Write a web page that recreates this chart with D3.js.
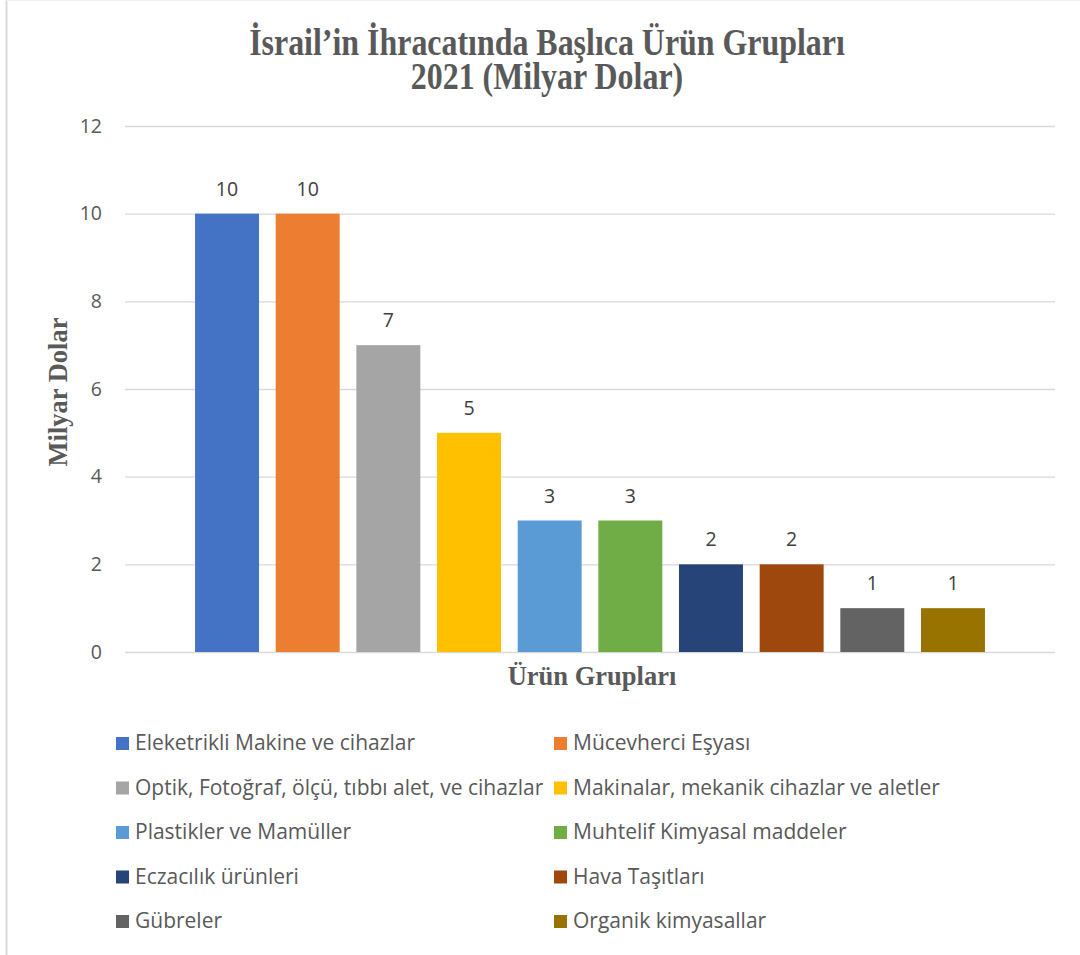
<!DOCTYPE html>
<html>
<head>
<meta charset="utf-8">
<script src="https://cdn.jsdelivr.net/npm/d3@7"></script>
<style>
  body { margin: 0; background: #fff; }
  svg { display: block; }
</style>
</head>
<body>
<div id="chart"></div>
<script>
var categories = [
  "Eleketrikli Makine ve cihazlar",
  "Mücevherci Eşyası",
  "Optik, Fotoğraf, ölçü, tıbbı alet, ve cihazlar",
  "Makinalar, mekanik cihazlar ve aletler",
  "Plastikler ve Mamüller",
  "Muhtelif Kimyasal maddeler",
  "Eczacılık ürünleri",
  "Hava Taşıtları",
  "Gübreler",
  "Organik kimyasallar"
];
var values = [10, 10, 7, 5, 3, 3, 2, 2, 1, 1];
var colors = ["#4472c4", "#ed7d31", "#a5a5a5", "#ffc000", "#5b9bd5",
              "#70ad47", "#264478", "#9e480e", "#636363", "#997300"];
var yTicks = [0, 2, 4, 6, 8, 10, 12];
var titleLines = ["İsrail’in İhracatında Başlıca Ürün Grupları", "2021 (Milyar Dolar)"];

var width = 1080, height = 955;
var plot = { left: 125, right: 1055, top: 126, bottom: 652 };
var serif = "'Liberation Serif', 'Times New Roman', serif";
var sans = "'Open Sans', 'Noto Sans', sans-serif";

var svg = d3.select("#chart")
  .append("svg")
  .attr("width", width)
  .attr("height", height);

svg.append("rect")
  .attr("width", width)
  .attr("height", height)
  .attr("fill", "#fff");

// chart frame (only the left edge is visible in the picture)
svg.append("line")
  .attr("x1", 6.5).attr("x2", 6.5)
  .attr("y1", 0).attr("y2", height)
  .attr("stroke", "#d9d9d9")
  .attr("stroke-width", 2);
svg.append("line")
  .attr("x1", 6).attr("x2", width)
  .attr("y1", 0.5).attr("y2", 0.5)
  .attr("stroke", "#f0f0f0");

var y = d3.scaleLinear()
  .domain([0, 12])
  .range([plot.bottom, plot.top]);

var x = d3.scaleBand()
  .domain(categories)
  .range([186.7, 993.3])
  .paddingInner(0.207)
  .paddingOuter(0.1035);

// gridlines + tick labels
var yAxis = svg.append("g")
  .attr("transform", "translate(" + plot.left + ",0)")
  .call(d3.axisLeft(y)
    .tickValues(yTicks)
    .tickSize(-(plot.right - plot.left))
    .tickPadding(23));
yAxis.select(".domain").remove();
yAxis.selectAll(".tick line")
  .attr("stroke", "#d9d9d9")
  .attr("stroke-width", 1.3);
yAxis.selectAll(".tick text")
  .attr("fill", "#595959")
  .style("font-family", sans)
  .style("font-size", "19.5px");

// bars
svg.append("g")
  .selectAll("rect")
  .data(values)
  .join("rect")
  .attr("x", function (d, i) { return x(categories[i]); })
  .attr("y", function (d) { return y(d); })
  .attr("width", x.bandwidth())
  .attr("height", function (d) { return y(0) - y(d); })
  .attr("fill", function (d, i) { return colors[i]; });

// value labels
svg.append("g")
  .selectAll("text")
  .data(values)
  .join("text")
  .attr("x", function (d, i) { return x(categories[i]) + x.bandwidth() / 2; })
  .attr("y", function (d) { return y(d) - 18; })
  .attr("text-anchor", "middle")
  .attr("fill", "#404040")
  .style("font-family", sans)
  .style("font-size", "19.5px")
  .text(function (d) { return d; });

// title, condensed serif like the original, one text with two lines
svg.append("text")
  .attr("transform", "translate(547,55) scale(0.84,1)")
  .attr("text-anchor", "middle")
  .attr("fill", "#595959")
  .style("font-family", serif)
  .style("font-weight", "bold")
  .style("font-size", "38px")
  .selectAll("tspan")
  .data(titleLines)
  .join("tspan")
  .attr("x", 0)
  .attr("y", function (d, i) { return i * 34; })
  .text(function (d) { return d; });

// axis titles
svg.append("text")
  .attr("transform", "translate(592,685)")
  .attr("text-anchor", "middle")
  .attr("fill", "#595959")
  .style("font-family", serif)
  .style("font-weight", "bold")
  .style("font-size", "26.5px")
  .text("Ürün Grupları");

svg.append("text")
  .attr("transform", "translate(67,392) rotate(-90)")
  .attr("text-anchor", "middle")
  .attr("fill", "#595959")
  .style("font-family", serif)
  .style("font-weight", "bold")
  .style("font-size", "26.5px")
  .text("Milyar Dolar");

// legend, two columns
var legend = svg.append("g")
  .selectAll("g")
  .data(categories)
  .join("g")
  .attr("transform", function (d, i) {
    var col = i % 2, row = Math.floor(i / 2);
    return "translate(" + (col === 0 ? 116 : 554) + "," + (743 + row * 44.5) + ")";
  });
legend.append("rect")
  .attr("y", -6)
  .attr("width", 13)
  .attr("height", 13)
  .attr("fill", function (d, i) { return colors[i]; });
legend.append("text")
  .attr("x", 19)
  .attr("dy", "0.35em")
  .attr("fill", "#595959")
  .style("font-family", sans)
  .style("font-size", "21px")
  .text(function (d) { return d; });
</script>
</body>
</html>
